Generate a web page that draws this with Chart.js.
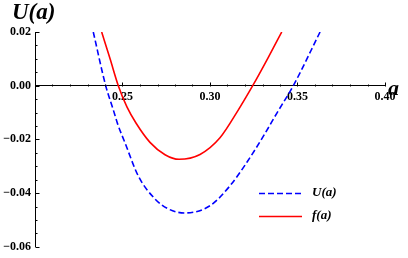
<!DOCTYPE html>
<html>
<head>
<meta charset="utf-8">
<script src="https://cdn.jsdelivr.net/npm/chart.js@4.4.1/dist/chart.umd.min.js"></script>
<style>
  body { margin: 0; background: #fff; }
  #contenedor { width: 408px; height: 258px; }
</style>
</head>
<body>
<div id="contenedor"><canvas id="grafica" width="408" height="258"></canvas></div>
<script>
// Curva U(a) (azul discontinua)
const xU = [0.2333, 0.2404, 0.2447, 0.2473, 0.2514, 0.2590, 0.2686, 0.2762, 0.2857, 0.3000, 0.3114, 0.3210, 0.3305, 0.3384, 0.3476, 0.3629];
const yU = [0.0200, 0.0000, -0.0089, -0.0144, -0.0212, -0.0336, -0.0422, -0.0459, -0.0474, -0.0447, -0.0373, -0.0286, -0.0188, -0.0100, 0.0000, 0.0200];

// Curva f(a) (roja)
const xF = [0.2381, 0.2429, 0.2476, 0.2526, 0.2577, 0.2657, 0.2743, 0.2823, 0.2943, 0.3057, 0.3163, 0.3244, 0.3331, 0.3410];
const yF = [0.0200, 0.0100, 0.0000, -0.0080, -0.0139, -0.0211, -0.0257, -0.0274, -0.0256, -0.0194, -0.0089, 0.0000, 0.0103, 0.0200];

// Marcas de los ejes
const ticksX = [0.25, 0.30, 0.35, 0.40];
const ticksY = [-0.06, -0.04, -0.02, 0.00, 0.02];
const etiquetas = ["U(a)", "f(a)"];

const fuenteSerif = "'Liberation Serif', 'Times New Roman', serif";
const ctxGrafica = document.getElementById("grafica");

function formatoNumero(v) {
    const s = Math.abs(v).toFixed(2);
    return v < -1e-9 ? "\u2212" + s : s;
}

// Marcas menores hacia dentro, titulos y leyenda
const decoraciones = {
    id: "decoraciones",
    afterDraw(chart) {
        const { ctx, scales: { x, y } } = chart;
        const x0 = Math.round(x.getPixelForValue(0.2)) + 0.5;
        const y0 = Math.round(y.getPixelForValue(0)) + 0.5;

        ctx.save();
        ctx.strokeStyle = "#000";
        ctx.lineWidth = 1;
        ctx.beginPath();
        for (let i = 21; i <= 40; i++) {
            const px = Math.round(x.getPixelForValue(i / 100)) + 0.5;
            const largo = i % 5 === 0 ? 4 : 2;
            ctx.moveTo(px, y0);
            ctx.lineTo(px, y0 - largo);
        }
        for (let i = -60; i <= 20; i += 5) {
            const py = Math.round(y.getPixelForValue(i / 1000)) + 0.5;
            const largo = i % 20 === 0 ? 4 : 2;
            ctx.moveTo(x0, py);
            ctx.lineTo(x0 + largo, py);
        }
        ctx.stroke();

        // Titulos de ejes
        ctx.fillStyle = "#000";
        ctx.textBaseline = "alphabetic";
        ctx.textAlign = "left";
        ctx.font = "italic bold 23px " + fuenteSerif;
        ctx.fillText("U(a)", 12, 19);
        ctx.font = "italic bold 22px " + fuenteSerif;
        ctx.fillText("a", 388, 95);

        // Leyenda
        const datasets = chart.data.datasets;
        const filas = [193, 216];
        datasets.forEach((ds, i) => {
            ctx.beginPath();
            ctx.strokeStyle = ds.borderColor;
            ctx.lineWidth = ds.borderWidth;
            ctx.setLineDash(ds.borderDash || []);
            ctx.moveTo(259, filas[i] + 0.5);
            ctx.lineTo(302, filas[i] + 0.5);
            ctx.stroke();
            ctx.setLineDash([]);
            ctx.fillStyle = "#000";
            ctx.font = "italic bold 13px " + fuenteSerif;
            ctx.textBaseline = "middle";
            ctx.fillText(ds.label, 312, filas[i]);
        });
        ctx.restore();
    }
};

new Chart(ctxGrafica, {
    type: "line",
    data: {
        datasets: [
            {
                label: etiquetas[0],
                data: xU.map((v, i) => ({ x: v, y: yU[i] })),
                borderColor: "rgb(0,0,255)",
                borderWidth: 1.6,
                borderDash: [6, 3],
                pointRadius: 0,
                cubicInterpolationMode: "monotone",
                fill: false
            },
            {
                label: etiquetas[1],
                data: xF.map((v, i) => ({ x: v, y: yF[i] })),
                borderColor: "rgb(255,0,0)",
                borderWidth: 1.6,
                pointRadius: 0,
                cubicInterpolationMode: "monotone",
                fill: false
            }
        ]
    },
    options: {
        responsive: false,
        animation: false,
        layout: { padding: { top: 32, right: 23, bottom: 9, left: 0 } },
        plugins: { legend: { display: false }, tooltip: { enabled: false } },
        scales: {
            x: {
                type: "linear",
                position: { y: 0 },
                min: 0.2,
                max: 0.4,
                afterBuildTicks: (scale) => { scale.ticks = ticksX.map(v => ({ value: v })); },
                grid: { drawOnChartArea: false, drawTicks: false },
                border: { display: true, color: "#000", width: 1 },
                ticks: {
                    padding: 4,
                    maxRotation: 0,
                    autoSkip: false,
                    color: "#000",
                    font: { family: fuenteSerif, size: 12, weight: "bold" },
                    callback: (v) => formatoNumero(v)
                }
            },
            y: {
                type: "linear",
                min: -0.06,
                max: 0.02,
                afterBuildTicks: (scale) => { scale.ticks = ticksY.map(v => ({ value: v })); },
                afterFit: (scale) => { scale.width = 35; },
                grid: { drawOnChartArea: false, drawTicks: false },
                border: { display: true, color: "#000", width: 1 },
                ticks: {
                    padding: 4,
                    color: "#000",
                    font: { family: fuenteSerif, size: 12, weight: "bold" },
                    callback: (v) => formatoNumero(v)
                }
            }
        }
    },
    plugins: [decoraciones]
});
</script>
</body>
</html>
